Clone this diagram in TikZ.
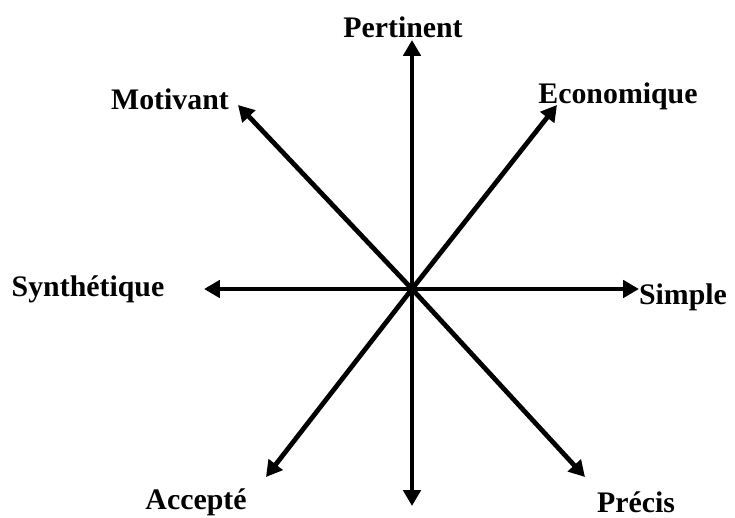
\documentclass[tikz,border=0pt]{standalone}
\usepackage{fontspec}
\setmainfont{Liberation Serif}
\usetikzlibrary{arrows.meta}
\tikzset{
  axe/.style={-{Triangle[length=12pt,width=13pt]},line width=3.6pt,draw=black},
  lbl/.style={font=\fontsize{22.5}{27}\selectfont\bfseries,inner sep=0pt},
}
\begin{document}
\begin{tikzpicture}[x=0.0265cm,y=-0.0265cm]
  \useasboundingbox (0,0) rectangle (735,518);
  \coordinate (o) at (412,289);
  \foreach \n/\x/\y in {n/412/40, s/412/506, w/204/289, e/639/289, nw/238/105, ne/557/105, sw/266/477, se/585/477} {
    \coordinate (\n) at (\x,\y);
    \draw[axe] (o) -- (\n);
  }
  \node[lbl] (pertinent) at (403,27) {Pertinent};
  \node[lbl] (motivant) at (170,99) {Motivant};
  \node[lbl] (economique) at (618,96) {Economique};
  \node[lbl] (synthetique) at (88,289) {Synthétique};
  \node[lbl] (simple) at (683,297) {Simple};
  \node[lbl] (accepte) at (196,502) {Accepté};
  \node[lbl] (precis) at (636,502) {Précis};
\end{tikzpicture}
\end{document}
